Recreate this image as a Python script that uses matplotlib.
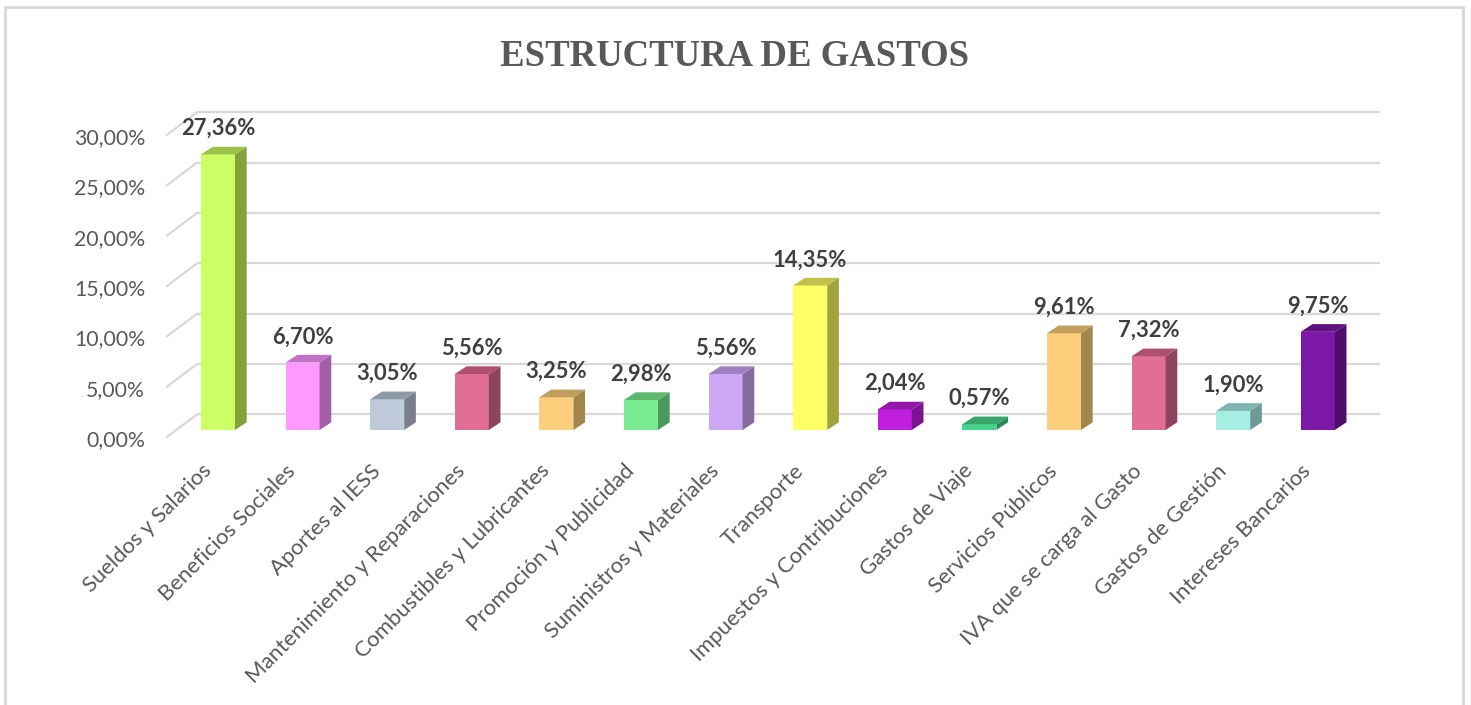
import matplotlib
matplotlib.use("Agg")
import matplotlib.pyplot as plt
from matplotlib.patches import Polygon, Rectangle
from matplotlib.transforms import ScaledTranslation

categories = ["Sueldos y Salarios", "Beneficios Sociales", "Aportes al IESS",
              "Mantenimiento y Reparaciones", "Combustibles y Lubricantes",
              "Promoción y Publicidad", "Suministros y Materiales", "Transporte",
              "Impuestos y Contribuciones", "Gastos de Viaje", "Servicios Públicos",
              "IVA que se carga al Gasto", "Gastos de Gestión", "Intereses Bancarios"]
values = [27.36, 6.70, 3.05, 5.56, 3.25, 2.98, 5.56, 14.35, 2.04, 0.57, 9.61, 7.32, 1.90, 9.75]
value_labels = ["27,36%", "6,70%", "3,05%", "5,56%", "3,25%", "2,98%", "5,56%",
                "14,35%", "2,04%", "0,57%", "9,61%", "7,32%", "1,90%", "9,75%"]
y_ticks = [0, 5, 10, 15, 20, 25, 30]
y_tick_labels = ["0,00%", "5,00%", "10,00%", "15,00%", "20,00%", "25,00%", "30,00%"]

front_colors = ["#CCFF66", "#FF99FF", "#BFCBDB", "#E06E95", "#FDCF7D", "#7AEB91", "#CFA8F5",
                "#FFFF66", "#C020DD", "#46D58C", "#FDCF7D", "#E06E95", "#A6EDE4", "#7D17A8"]
side_colors = ["#82A23C", "#A35FA8", "#7A7F8A", "#8D4460", "#A2864C", "#4B9A5D", "#85699F",
               "#A3A33D", "#7B148E", "#2C8A58", "#A2864C", "#8D4460", "#6A9A94", "#4F0E6B"]
top_colors = ["#9DC24A", "#C271C6", "#8F9AA8", "#B0506F", "#C1A05E", "#5BB86E", "#A07FC0",
              "#C2C24A", "#9318AA", "#38A56B", "#C1A05E", "#B0506F", "#7FB5AE", "#5F1180"]

W, H = 1471, 705
fig = plt.figure(figsize=(W / 100, H / 100), dpi=100)
fig.patch.set_facecolor("white")

# outer border
fig.patches.append(Rectangle((5 / W, -0.01), (1463 - 5) / W, 1 - 7 / H + 0.01,
                             transform=fig.transFigure, fill=False,
                             edgecolor="#D9D9D9", linewidth=2))

L, R, T, B = 150, 1390, 100, 440
x0, xs = 218, 84.6     # px of first bar centre, px per category
y0, ys = 430, 10.07    # px of zero, px per percent
ax = fig.add_axes([L / W, 1 - B / H, (R - L) / W, (B - T) / H])
ax.set_xlim((L - x0) / xs, (R - x0) / xs)
ax.set_ylim((y0 - B) / ys, (y0 - T) / ys)
for s in ax.spines.values():
    s.set_visible(False)

bw = 0.402        # bar width
ddx, ddy = 0.138, 0.765   # bar depth offsets
wall_dy = 1.55
wall_x0, wall_x1 = -0.248, 13.735
front_dx, front_dy = -0.355, -2.245

grid_c = "#D9D9D9"
for t in y_ticks:
    ax.plot([wall_x0, wall_x1], [t + wall_dy, t + wall_dy], color=grid_c, lw=1.6,
            zorder=1, clip_on=False, solid_capstyle="butt")
    ax.plot([wall_x0 + front_dx, wall_x0], [t + wall_dy + front_dy, t + wall_dy],
            color=grid_c, lw=1.6, zorder=1, clip_on=False)

xs_pos = list(range(len(categories)))
ax.bar(xs_pos, values, width=bw, color=front_colors, zorder=3, linewidth=0)
for i, v in enumerate(values):
    xl, xr = i - bw / 2, i + bw / 2
    side = Polygon([(xr, 0), (xr + ddx, ddy), (xr + ddx, v + ddy), (xr, v)],
                   closed=True, facecolor=side_colors[i], edgecolor="none", zorder=3)
    top = Polygon([(xl, v), (xl + ddx, v + ddy), (xr + ddx, v + ddy), (xr, v)],
                  closed=True, facecolor=top_colors[i], edgecolor="none", zorder=3)
    ax.add_patch(side)
    ax.add_patch(top)
    ax.text(i, v + ddy + 1.15, value_labels[i], ha="center", va="baseline",
            fontsize=15.8, fontweight="bold", color="#404040", family="Lato", zorder=4)

ax.set_yticks([t - 0.8 for t in y_ticks])
ax.set_yticklabels(y_tick_labels, family="Lato", fontsize=15.3, color="#595959")
ax.tick_params(axis="y", length=0, pad=3.6)

ax.set_xticks(xs_pos)
ax.set_xticklabels(categories, rotation=45, ha="right", va="center",
                   rotation_mode="anchor", family="Lato", fontsize=15.8, color="#595959")
ax.tick_params(axis="x", length=0, pad=20)
shift = ScaledTranslation(-10 / 100, 0, fig.dpi_scale_trans)
for lab in ax.get_xticklabels():
    lab.set_transform(lab.get_transform() + shift)

fig.text(734.5 / W, 1 - 66 / H, "ESTRUCTURA DE GASTOS", ha="center", va="baseline",
         family="Liberation Serif", fontweight="bold", fontsize=26.5, color="#595959")

fig.savefig("out.png", dpi=100, facecolor="white")
